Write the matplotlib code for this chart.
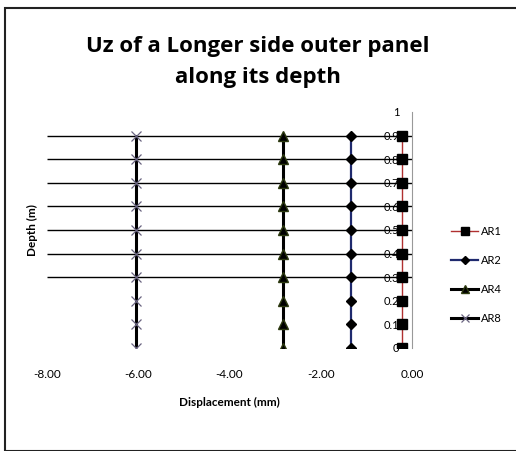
import matplotlib.pyplot as plt
from matplotlib.patches import Rectangle

# depth levels (m) and displacement (mm) per series
depth = [0, 0.1, 0.2, 0.3, 0.4, 0.5, 0.6, 0.7, 0.8, 0.9]
ar1 = [-0.22] * 10
ar2 = [-1.33] * 10
ar4 = [-2.82] * 10
ar8 = [-6.05] * 10
grid_levels = [0.3, 0.4, 0.5, 0.6, 0.7, 0.8, 0.9]
x_ticks = [-8, -6, -4, -2, 0]
y_ticks = [0, 0.1, 0.2, 0.3, 0.4, 0.5, 0.6, 0.7, 0.8, 0.9, 1]

plt.rcParams['font.family'] = ['Lato', 'DejaVu Sans']

fig = plt.figure(figsize=(5.16, 4.51), dpi=100)
fig.patches.append(Rectangle((5 / 516, 0.0), 1.2, 1 - 8 / 451, transform=fig.transFigure,
                             fill=False, edgecolor='#222222', linewidth=1.5))
ax = fig.add_axes([47 / 516, 1 - 348 / 451, (412 - 47) / 516, (348 - 112) / 451])

ax.hlines(grid_levels, -8, 0, color='black', linewidth=1.0, zorder=1)

ax.plot(ar1, depth, color='#b03030', linewidth=1.0, marker='s', markersize=7,
        markerfacecolor='black', markeredgecolor='black', label='AR1', zorder=3)
ax.plot(ar2, depth, color='#1f2a6e', linewidth=1.6, marker='D', markersize=5,
        markerfacecolor='black', markeredgecolor='black', label='AR2', zorder=3)
ax.plot(ar4, depth, color='black', linewidth=2.2, marker='^', markersize=7,
        markerfacecolor='black', markeredgecolor='#2d3a10', label='AR4', zorder=3)
ax.plot(ar8, depth, color='black', linewidth=2.2, marker='x', markersize=7,
        markeredgecolor='#6a6480', markeredgewidth=0.9, label='AR8', zorder=3)

ax.set_xlim(-8, 0)
ax.set_ylim(0, 1)
ax.set_xticks(x_ticks)
ax.set_xticklabels([f'{v:.2f}' for v in x_ticks])
ax.set_yticks(y_ticks)
ax.set_yticklabels([f'{v:g}' for v in y_ticks])

ax.spines['left'].set_position(('data', 0))
ax.spines['left'].set_color('#999999')
for s in ['top', 'right', 'bottom']:
    ax.spines[s].set_visible(False)
ax.tick_params(axis='y', length=0, labelsize=8, pad=9)
ax.tick_params(axis='x', length=0, labelsize=8.5, pad=15)

ax.set_xlabel('Displacement (mm)', fontsize=8.5, fontweight='bold', labelpad=12)
ax.set_ylabel('Depth (m)', fontsize=8.5, fontweight='bold')
ax.yaxis.set_label_coords(-0.025, 0.5)

fig.text(0.5, 1 - 62 / 451, 'Uz of a Longer side outer panel\nalong its depth',
         ha='center', va='center', fontsize=16, fontweight='bold', linespacing=1.6,
         family=['Open Sans', 'DejaVu Sans'])

ax.legend(loc='center left', bbox_to_anchor=(1.08, 0.31), frameon=False,
          fontsize=8, handlelength=2.4, labelspacing=1.6, handletextpad=0.3,
          markerscale=0.8)

plt.savefig('out.png', dpi=100)
